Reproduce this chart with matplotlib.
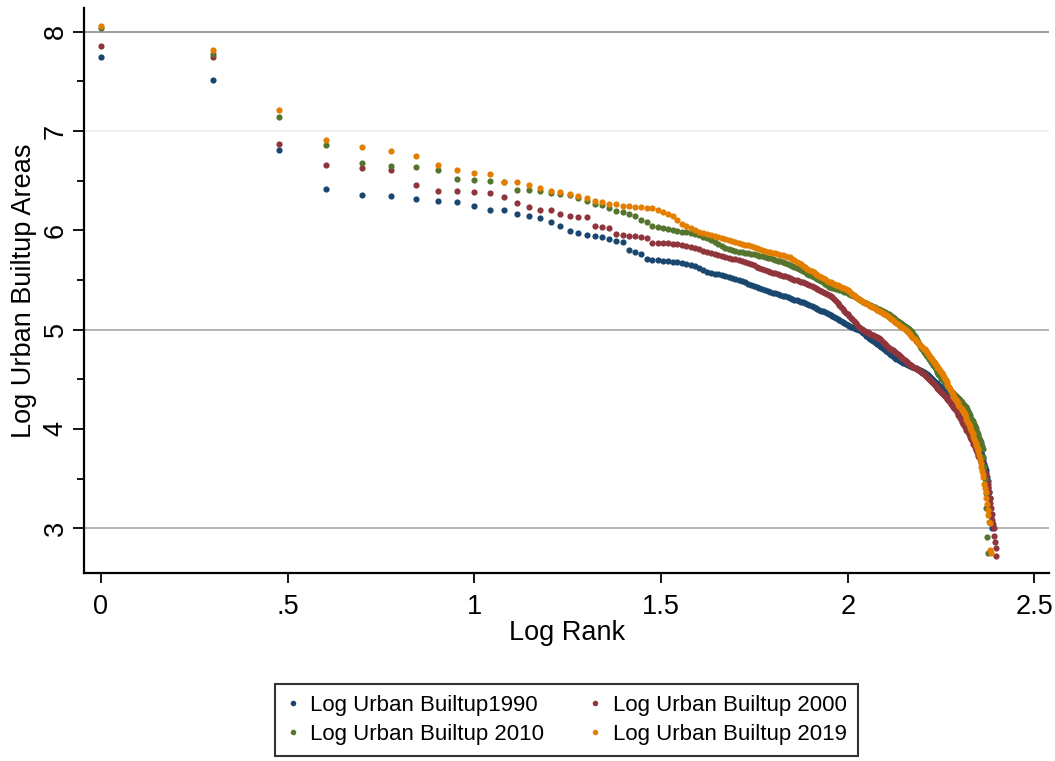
import numpy as np
import matplotlib
matplotlib.use("Agg")
import matplotlib.pyplot as plt
from matplotlib.lines import Line2D

# ---- data: log urban built-up area by city rank (rank 1 = largest) ----
builtup_1990 = [
    7.75, 7.51, 6.81, 6.42, 6.36, 6.35, 6.32, 6.30, 6.29, 6.25,
    6.20, 6.20, 6.16, 6.14, 6.12, 6.08, 6.04, 5.99, 5.97, 5.95,
    5.94, 5.93, 5.91, 5.89, 5.88, 5.80, 5.78, 5.76, 5.71, 5.70,
    5.70, 5.69, 5.69, 5.68, 5.68, 5.67, 5.66, 5.65, 5.64, 5.62,
    5.60, 5.58, 5.57, 5.56, 5.56, 5.55, 5.54, 5.53, 5.52, 5.51,
    5.50, 5.49, 5.48, 5.46, 5.45, 5.44, 5.43, 5.42, 5.41, 5.40,
    5.39, 5.38, 5.37, 5.37, 5.36, 5.35, 5.34, 5.34, 5.33, 5.32,
    5.31, 5.30, 5.30, 5.29, 5.28, 5.28, 5.27, 5.26, 5.25, 5.24,
    5.23, 5.22, 5.21, 5.20, 5.19, 5.19, 5.18, 5.17, 5.16, 5.15,
    5.14, 5.13, 5.12, 5.11, 5.10, 5.09, 5.08, 5.07, 5.06, 5.05,
    5.04, 5.03, 5.03, 5.02, 5.01, 5.01, 5.00, 5.00, 4.98, 4.97,
    4.96, 4.94, 4.93, 4.92, 4.91, 4.90, 4.89, 4.88, 4.87, 4.86,
    4.85, 4.84, 4.83, 4.82, 4.81, 4.80, 4.78, 4.77, 4.76, 4.75,
    4.74, 4.73, 4.72, 4.71, 4.70, 4.70, 4.69, 4.68, 4.68, 4.67,
    4.66, 4.66, 4.65, 4.65, 4.64, 4.64, 4.63, 4.63, 4.62, 4.62,
    4.61, 4.61, 4.60, 4.60, 4.59, 4.59, 4.58, 4.58, 4.57, 4.57,
    4.56, 4.55, 4.55, 4.54, 4.53, 4.52, 4.51, 4.50, 4.49, 4.48,
    4.47, 4.46, 4.46, 4.45, 4.44, 4.43, 4.43, 4.42, 4.41, 4.40,
    4.40, 4.39, 4.39, 4.38, 4.38, 4.37, 4.37, 4.36, 4.35, 4.35,
    4.34, 4.34, 4.33, 4.33, 4.32, 4.31, 4.30, 4.28, 4.27, 4.26,
    4.25, 4.23, 4.22, 4.21, 4.20, 4.18, 4.16, 4.14, 4.13, 4.11,
    4.09, 4.08, 4.06, 4.04, 4.03, 4.02, 4.00, 3.98, 3.96, 3.95,
    3.93, 3.91, 3.89, 3.87, 3.85, 3.83, 3.80, 3.77, 3.74, 3.71,
    3.68, 3.65, 3.62, 3.59, 3.56, 3.52, 3.48, 3.42, 3.36, 3.30,
    3.20, 3.12, 3.05, 3.00,
]

builtup_2000 = [
    7.86, 7.75, 6.87, 6.66, 6.63, 6.61, 6.46, 6.40, 6.40, 6.39,
    6.38, 6.34, 6.28, 6.24, 6.20, 6.20, 6.16, 6.14, 6.13, 6.13,
    6.04, 6.03, 6.02, 5.96, 5.95, 5.94, 5.94, 5.93, 5.92, 5.87,
    5.87, 5.87, 5.87, 5.86, 5.86, 5.85, 5.84, 5.83, 5.82, 5.81,
    5.79, 5.78, 5.77, 5.76, 5.75, 5.74, 5.73, 5.72, 5.71, 5.71,
    5.70, 5.69, 5.68, 5.67, 5.66, 5.65, 5.63, 5.62, 5.61, 5.60,
    5.59, 5.58, 5.57, 5.57, 5.56, 5.55, 5.54, 5.54, 5.53, 5.52,
    5.51, 5.50, 5.50, 5.49, 5.48, 5.48, 5.47, 5.46, 5.45, 5.44,
    5.43, 5.42, 5.41, 5.40, 5.39, 5.38, 5.37, 5.36, 5.35, 5.34,
    5.33, 5.31, 5.29, 5.27, 5.25, 5.23, 5.21, 5.19, 5.17, 5.16,
    5.14, 5.12, 5.11, 5.09, 5.07, 5.05, 5.03, 5.02, 5.01, 5.00,
    4.99, 4.98, 4.98, 4.97, 4.96, 4.95, 4.95, 4.94, 4.93, 4.93,
    4.92, 4.91, 4.90, 4.88, 4.87, 4.86, 4.85, 4.83, 4.82, 4.81,
    4.80, 4.79, 4.78, 4.77, 4.76, 4.75, 4.74, 4.73, 4.72, 4.71,
    4.70, 4.69, 4.68, 4.67, 4.66, 4.65, 4.64, 4.64, 4.63, 4.62,
    4.61, 4.61, 4.60, 4.59, 4.59, 4.58, 4.57, 4.56, 4.56, 4.55,
    4.54, 4.53, 4.52, 4.51, 4.50, 4.49, 4.48, 4.47, 4.46, 4.45,
    4.44, 4.43, 4.42, 4.41, 4.40, 4.39, 4.38, 4.37, 4.36, 4.35,
    4.34, 4.33, 4.32, 4.31, 4.30, 4.29, 4.28, 4.27, 4.25, 4.24,
    4.23, 4.22, 4.21, 4.20, 4.19, 4.17, 4.16, 4.14, 4.13, 4.11,
    4.10, 4.08, 4.07, 4.05, 4.04, 4.02, 4.01, 3.99, 3.98, 3.97,
    3.95, 3.94, 3.92, 3.90, 3.89, 3.87, 3.85, 3.84, 3.82, 3.80,
    3.79, 3.77, 3.75, 3.73, 3.72, 3.70, 3.68, 3.67, 3.65, 3.63,
    3.60, 3.58, 3.56, 3.54, 3.51, 3.48, 3.45, 3.41, 3.36, 3.30,
    3.25, 3.20, 3.14, 3.08, 3.04, 3.00, 2.92, 2.86, 2.80, 2.72,
]

builtup_2010 = [
    8.04, 7.78, 7.14, 6.86, 6.68, 6.65, 6.64, 6.61, 6.52, 6.51,
    6.50, 6.49, 6.41, 6.41, 6.40, 6.38, 6.37, 6.36, 6.33, 6.30,
    6.27, 6.26, 6.22, 6.19, 6.18, 6.16, 6.14, 6.10, 6.08, 6.04,
    6.03, 6.02, 6.01, 6.00, 5.99, 5.98, 5.98, 5.97, 5.96, 5.95,
    5.93, 5.92, 5.90, 5.88, 5.86, 5.84, 5.82, 5.81, 5.80, 5.79,
    5.78, 5.78, 5.77, 5.77, 5.76, 5.76, 5.75, 5.74, 5.74, 5.73,
    5.72, 5.72, 5.71, 5.70, 5.69, 5.69, 5.68, 5.67, 5.66, 5.65,
    5.64, 5.63, 5.62, 5.61, 5.60, 5.59, 5.58, 5.56, 5.55, 5.54,
    5.53, 5.52, 5.51, 5.50, 5.49, 5.48, 5.46, 5.45, 5.43, 5.43,
    5.42, 5.42, 5.41, 5.41, 5.40, 5.40, 5.39, 5.38, 5.38, 5.37,
    5.36, 5.35, 5.35, 5.34, 5.33, 5.32, 5.31, 5.30, 5.29, 5.28,
    5.27, 5.27, 5.26, 5.25, 5.25, 5.24, 5.23, 5.23, 5.22, 5.21,
    5.21, 5.20, 5.20, 5.19, 5.18, 5.18, 5.17, 5.16, 5.16, 5.15,
    5.14, 5.13, 5.12, 5.11, 5.10, 5.09, 5.08, 5.07, 5.07, 5.06,
    5.05, 5.04, 5.03, 5.02, 5.02, 5.01, 5.00, 4.99, 4.98, 4.96,
    4.94, 4.92, 4.90, 4.88, 4.86, 4.84, 4.82, 4.80, 4.79, 4.77,
    4.76, 4.74, 4.73, 4.72, 4.70, 4.69, 4.67, 4.66, 4.64, 4.63,
    4.62, 4.60, 4.59, 4.57, 4.55, 4.54, 4.53, 4.51, 4.50, 4.49,
    4.48, 4.47, 4.45, 4.44, 4.43, 4.42, 4.41, 4.39, 4.38, 4.37,
    4.36, 4.35, 4.35, 4.34, 4.33, 4.32, 4.31, 4.31, 4.30, 4.29,
    4.28, 4.27, 4.26, 4.25, 4.24, 4.23, 4.22, 4.22, 4.20, 4.18,
    4.16, 4.14, 4.12, 4.10, 4.09, 4.08, 4.06, 4.05, 4.03, 4.01,
    3.99, 3.97, 3.95, 3.93, 3.91, 3.89, 3.87, 3.85, 3.83, 3.80,
    3.72, 3.62, 3.50, 3.35, 3.20, 2.91, 2.75,
]

builtup_2019 = [
    8.06, 7.82, 7.21, 6.91, 6.84, 6.80, 6.75, 6.66, 6.61, 6.58,
    6.57, 6.49, 6.49, 6.46, 6.43, 6.40, 6.39, 6.37, 6.35, 6.33,
    6.30, 6.29, 6.27, 6.27, 6.25, 6.25, 6.24, 6.23, 6.22, 6.22,
    6.20, 6.18, 6.16, 6.14, 6.10, 6.06, 6.04, 6.02, 6.00, 5.98,
    5.97, 5.96, 5.95, 5.94, 5.93, 5.92, 5.91, 5.90, 5.89, 5.88,
    5.87, 5.86, 5.85, 5.85, 5.84, 5.83, 5.82, 5.81, 5.80, 5.79,
    5.78, 5.78, 5.77, 5.77, 5.76, 5.75, 5.75, 5.74, 5.73, 5.73,
    5.71, 5.70, 5.68, 5.67, 5.66, 5.64, 5.63, 5.61, 5.60, 5.59,
    5.58, 5.56, 5.55, 5.54, 5.53, 5.52, 5.51, 5.49, 5.48, 5.48,
    5.47, 5.46, 5.45, 5.45, 5.44, 5.43, 5.42, 5.42, 5.41, 5.40,
    5.39, 5.37, 5.36, 5.35, 5.33, 5.32, 5.31, 5.30, 5.29, 5.28,
    5.27, 5.27, 5.26, 5.25, 5.24, 5.23, 5.23, 5.22, 5.21, 5.20,
    5.19, 5.19, 5.18, 5.17, 5.16, 5.16, 5.15, 5.14, 5.13, 5.12,
    5.11, 5.10, 5.09, 5.08, 5.07, 5.06, 5.05, 5.04, 5.03, 5.03,
    5.02, 5.01, 5.00, 4.99, 4.98, 4.97, 4.96, 4.94, 4.93, 4.92,
    4.91, 4.89, 4.88, 4.87, 4.86, 4.85, 4.84, 4.83, 4.82, 4.81,
    4.80, 4.78, 4.77, 4.75, 4.74, 4.72, 4.71, 4.70, 4.68, 4.67,
    4.66, 4.64, 4.63, 4.62, 4.61, 4.60, 4.58, 4.57, 4.56, 4.54,
    4.52, 4.50, 4.49, 4.47, 4.45, 4.43, 4.42, 4.40, 4.38, 4.36,
    4.35, 4.33, 4.32, 4.30, 4.29, 4.28, 4.26, 4.24, 4.23, 4.22,
    4.21, 4.20, 4.19, 4.18, 4.17, 4.15, 4.12, 4.10, 4.08, 4.06,
    4.05, 4.03, 4.01, 3.99, 3.97, 3.95, 3.92, 3.90, 3.88, 3.86,
    3.84, 3.82, 3.80, 3.78, 3.74, 3.70, 3.66, 3.62, 3.58, 3.55,
    3.52, 3.45, 3.41, 3.36, 3.30, 3.24, 3.18, 3.13, 3.06, 3.05,
    2.78, 2.75,
]

series_labels = ["Log Urban Builtup1990", "Log Urban Builtup 2000",
                 "Log Urban Builtup 2010", "Log Urban Builtup 2019"]
x_ticks = [0, 0.5, 1, 1.5, 2, 2.5]
x_tick_labels = ["0", ".5", "1", "1.5", "2", "2.5"]
y_ticks = [3, 4, 5, 6, 7, 8]
y_tick_labels = ["3", "4", "5", "6", "7", "8"]

colors = ["#1a476f", "#90353b", "#55752f", "#e37e00"]

plt.rcParams["font.family"] = ["Liberation Sans", "DejaVu Sans"]

fig = plt.figure(figsize=(10.55, 7.61), dpi=100)
ax = fig.add_axes([0.0796, 0.247, 0.915, 0.7425])

all_series = [builtup_1990, builtup_2000, builtup_2010, builtup_2019]
for vals, col, lab in zip(all_series, colors, series_labels):
    vals = np.asarray(vals)
    log_rank = np.log10(np.arange(1, len(vals) + 1))
    ax.scatter(log_rank, vals, s=20, color=col, linewidths=0, label=lab, zorder=3)

ax.set_xlim(-0.0455, 2.54)
ax.set_ylim(2.549, 8.239)

ax.set_xticks(x_ticks)
ax.set_xticklabels(x_tick_labels)
ax.set_yticks(y_ticks)
ax.set_yticklabels(y_tick_labels, rotation=90, va="center")
ax.set_yticks([3.5, 4.5, 5.5, 6.5, 7.5], minor=True)

ax.tick_params(axis="x", which="major", length=7, width=1.3, pad=8,
               labelsize=19.5, color="black")
ax.tick_params(axis="y", which="major", length=8, width=1.3, pad=3,
               labelsize=19.5, color="black")
ax.tick_params(axis="y", which="minor", length=5, width=1.3, color="black")

for side in ["top", "right"]:
    ax.spines[side].set_visible(False)
for side in ["left", "bottom"]:
    ax.spines[side].set_linewidth(1.6)
    ax.spines[side].set_color("black")

ax.yaxis.grid(True, which="major")
grid_colors = {3: "#a8a8a8", 4: "none", 5: "#a8a8a8", 6: "none", 7: "#ececec", 8: "#8c8c8c"}
for tick_val, gl in zip(y_ticks, ax.get_ygridlines()):
    gl.set_color(grid_colors[tick_val])
    gl.set_linewidth(1.2)
ax.set_axisbelow(True)

ax.set_xlabel("Log Rank", fontsize=19.5, labelpad=0)
ax.set_ylabel("Log Urban Builtup Areas", fontsize=19.5, labelpad=4)

handles = [Line2D([], [], marker="o", linestyle="none", markersize=4,
                  markerfacecolor=c, markeredgewidth=0) for c in colors]
order = [0, 2, 1, 3]
leg = fig.legend([handles[i] for i in order], [series_labels[i] for i in order],
                 loc="center", bbox_to_anchor=(0.537, 0.054), ncol=2,
                 fontsize=16, frameon=True, fancybox=False,
                 handlelength=0.6, handletextpad=0.5, columnspacing=2.0,
                 borderpad=0.5, labelspacing=0.35)
leg.get_frame().set_edgecolor("black")
leg.get_frame().set_linewidth(1.5)

fig.savefig("out.png", dpi=100, facecolor="white")
